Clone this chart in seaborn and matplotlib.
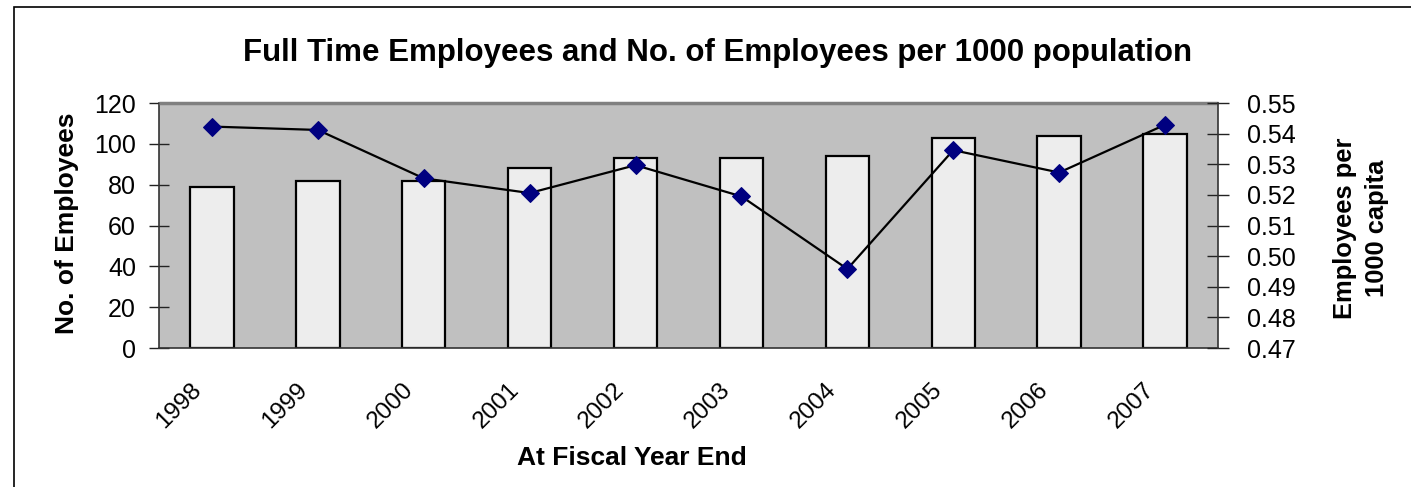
import numpy as np
import pandas as pd
import matplotlib
matplotlib.use("Agg")
import matplotlib.pyplot as plt
import matplotlib.patches as mpatches
import matplotlib.transforms as mtransforms
import seaborn as sns

years = ["1998", "1999", "2000", "2001", "2002", "2003", "2004", "2005", "2006", "2007"]
employees = [79, 82, 82, 88, 93, 93, 94, 103, 104, 105]
per_1000 = [0.5423, 0.5412, 0.5254, 0.5206, 0.5297, 0.5195, 0.4958, 0.5346, 0.5273, 0.5429]
left_ticks = [0, 20, 40, 60, 80, 100, 120]
right_ticks = [0.47, 0.48, 0.49, 0.50, 0.51, 0.52, 0.53, 0.54, 0.55]

sns.set_theme(style="white")
plt.rcParams["font.family"] = ["Liberation Sans", "DejaVu Sans"]
plt.rcParams["text.color"] = "black"
plt.rcParams["xtick.color"] = "black"
plt.rcParams["ytick.color"] = "black"

W, H = 1411, 487
fig = plt.figure(figsize=(W / 100, H / 100), dpi=100)
ax = fig.add_axes([159 / W, 1 - 348 / H, (1218 - 159) / W, (348 - 103) / H])
ax.set_facecolor("#c0c0c0")

df = pd.DataFrame({"year": years, "employees": employees})
sns.barplot(data=df, x="year", y="employees", ax=ax, color="#eeeeee",
            width=0.41, edgecolor="black", linewidth=1.6, saturation=1)
for p in ax.patches:
    p.set_facecolor("#ededed")

ax.set_ylim(0, 120)
ax.set_xlim(-0.5, len(years) - 0.5)
ax.set_yticks(left_ticks)
ax.set_yticklabels([str(t) for t in left_ticks], fontsize=18)
ax.set_xticks(np.arange(len(years) + 1) - 0.5)
ax.set_xticklabels([])
ax.set_xticks(np.arange(len(years)), minor=True)
ax.set_xticklabels(years, minor=True, rotation=45, ha="right",
                   rotation_mode="anchor", fontsize=17.5)
ax.tick_params(axis="x", which="minor", length=0, pad=10)
ax.tick_params(axis="x", which="major", direction="inout", length=16, width=1, color="#444444")
ax.tick_params(axis="y", direction="inout", length=15, width=1, color="#222222", pad=9)
ax.set_xlabel("")
ax.set_ylabel("")
shift = mtransforms.ScaledTranslation(-22 / 100, -17 / 100, fig.dpi_scale_trans)
for lab in ax.get_xticklabels(minor=True):
    lab.set_transform(lab.get_transform() + shift)

for s in ["top", "right"]:
    ax.spines[s].set_visible(False)
ax.spines["left"].set_color("#333333")
ax.spines["bottom"].set_color("#333333")
ax.spines["left"].set_linewidth(1.2)
ax.spines["bottom"].set_linewidth(1.2)

ax2 = ax.twinx()
sns.lineplot(x=np.arange(len(years)), y=per_1000, ax=ax2, color="black",
             linewidth=1.6, marker="D", markersize=9,
             markerfacecolor="#000080", markeredgecolor="#000080")
ax2.set_ylim(0.47, 0.55)
ax2.set_yticks(right_ticks)
ax2.set_yticklabels([f"{t:.2f}" for t in right_ticks], fontsize=18)
ax2.tick_params(axis="y", direction="inout", length=16, width=1, color="#222222", pad=13)
ax2.set_ylabel("")
for s in ["top", "left", "bottom"]:
    ax2.spines[s].set_visible(False)
ax2.spines["right"].set_color("#333333")
ax2.spines["right"].set_linewidth(1.2)
ax2.plot([-0.5, len(years) - 0.5], [0.55, 0.55], color="#808080", lw=2.5,
         clip_on=False, zorder=0.5, solid_capstyle="butt")

fig.text(718 / W, 1 - 52.5 / H, "Full Time Employees and No. of Employees per 1000 population",
         ha="center", va="center", fontsize=22.5, fontweight="bold")
fig.text(632 / W, 1 - 458 / H, "At Fiscal Year End", ha="center", va="center",
         fontsize=19, fontweight="bold")
fig.text(67 / W, 1 - 223 / H, "No. of Employees", ha="center", va="center",
         rotation=90, fontsize=19, fontweight="bold")
fig.text(1361 / W, 1 - 228 / H, "Employees per\n1000 capita", ha="center", va="center",
         rotation=90, fontsize=18.4, fontweight="bold", linespacing=1.4)

fig.patches.append(mpatches.Rectangle((14 / W, -0.1), 1.2, 1 - 7 / H + 0.1,
                                      transform=fig.transFigure, fill=False,
                                      edgecolor="black", linewidth=1.2))

fig.savefig("out.png", dpi=100)
